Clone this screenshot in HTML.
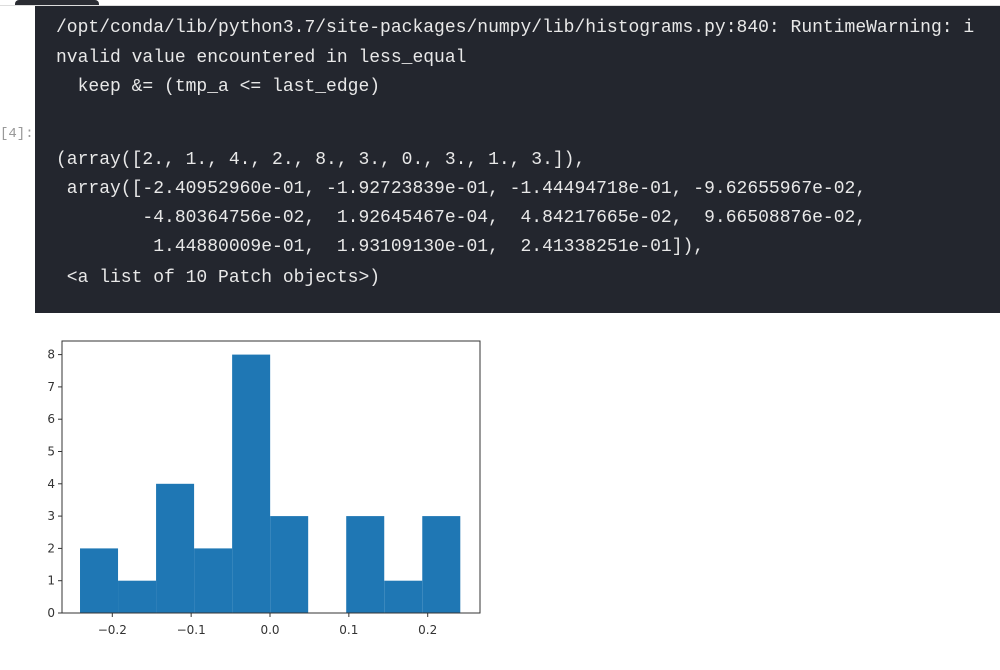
<!DOCTYPE html>
<html><head><meta charset="utf-8">
<style>
body{margin:0;width:1000px;height:670px;background:#fff;position:relative;overflow:hidden;font-family:"Liberation Sans",sans-serif}
#tab{position:absolute;left:15px;top:0;width:84px;height:5px;background:#2a2c33;border-radius:4px 4px 0 0}
#topline{position:absolute;left:0;top:5px;width:1000px;height:1px;background:#ddd}
#out{position:absolute;left:35px;top:6px;width:965px;height:307px;background:#23262e}
.l{position:absolute;left:21px;font-family:"Liberation Mono",monospace;font-size:18px;color:#e8e8e8;white-space:pre;line-height:20px}
#prompt{position:absolute;left:0;top:126px;font-family:"Liberation Mono",monospace;font-size:14px;color:#999}
</style></head><body>
<div id="tab"></div>
<div id="topline"></div>
<div id="prompt">[4]:</div>
<div id="out">
<div class="l" style="top:12px">/opt/conda/lib/python3.7/site-packages/numpy/lib/histograms.py:840: RuntimeWarning: i</div>
<div class="l" style="top:42px">nvalid value encountered in less_equal</div>
<div class="l" style="top:71px">  keep &amp;= (tmp_a &lt;= last_edge)</div>
<div class="l" style="top:144px">(array([2., 1., 4., 2., 8., 3., 0., 3., 1., 3.]),</div>
<div class="l" style="top:173px"> array([-2.40952960e-01, -1.92723839e-01, -1.44494718e-01, -9.62655967e-02,</div>
<div class="l" style="top:202px">        -4.80364756e-02,  1.92645467e-04,  4.84217665e-02,  9.66508876e-02,</div>
<div class="l" style="top:231px">         1.44880009e-01,  1.93109130e-01,  2.41338251e-01]),</div>
<div class="l" style="top:262px"> &lt;a list of 10 Patch objects&gt;)</div>
</div>
<svg id="chart" width="1000" height="670" style="position:absolute;left:0;top:0"></svg>
<script>
const counts=[2,1,4,2,8,3,0,3,1,3];
const edges=[-0.240952960,-0.192723839,-0.144494718,-0.0962655967,-0.0480364756,0.000192645467,0.0484217665,0.0966508876,0.144880009,0.193109130,0.241338251];
const xTicks=[-0.2,-0.1,0.0,0.1,0.2];
const xTickLabels=["\u22120.2","\u22120.1","0.0","0.1","0.2"];
const yTicks=[0,1,2,3,4,5,6,7,8];
const NS="http://www.w3.org/2000/svg";
const svg=document.getElementById('chart');
const L=62,R=480,T=341,B=613;
const sx=v=>270+v*788.5;
const sy=v=>B-v*32.3;
function mk(t,a){const e=document.createElementNS(NS,t);for(const k in a)e.setAttribute(k,a[k]);svg.appendChild(e);return e;}
for(let i=0;i<counts.length;i++){
  const x0=sx(edges[i]),x1=sx(edges[i+1]);
  const r=mk('rect',{x:x0,y:sy(counts[i]),width:x1-x0,height:sy(0)-sy(counts[i]),fill:'#1f77b4'});
  
  
}
const frame=mk('rect',{x:L,y:T,width:R-L,height:B-T,fill:'none',stroke:'#333','stroke-width':1});


xTicks.forEach((v,i)=>{
  const x=sx(v);
  mk('line',{x1:x,x2:x,y1:B,y2:B+4,stroke:'#333'});
  const t=mk('text',{x:x,y:B+21,'text-anchor':'middle','font-size':12,fill:'#333','font-family':'DejaVu Sans, sans-serif'});
  t.textContent=xTickLabels[i];
  
  
});
yTicks.forEach(v=>{
  const y=sy(v);
  mk('line',{x1:L-4,x2:L,y1:y,y2:y,stroke:'#333'});
  const t=mk('text',{x:L-7,y:y+4,'text-anchor':'end','font-size':12,fill:'#333','font-family':'DejaVu Sans, sans-serif'});
  t.textContent=String(v);
  
  
});
</script>
</body></html>
